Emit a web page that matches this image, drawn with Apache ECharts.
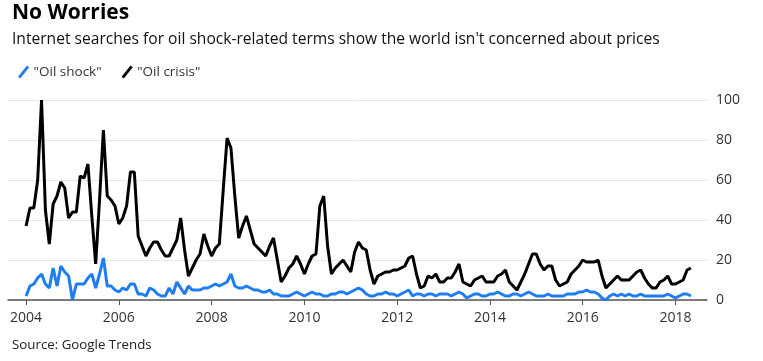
<!DOCTYPE html>
<html>
<head>
<meta charset="utf-8">
<script src="https://cdn.jsdelivr.net/npm/echarts@6/dist/echarts.min.js"></script>
<style>
html,body{margin:0;padding:0;background:#fff;}
#c{width:763px;height:361px;}
</style>
</head>
<body>
<div id="c"></div>
<script>
// Monthly Google Trends index, Jan 2004 .. May 2018
const startYear = 2004;
const oilCrisis = [
  37,46,46,60,100,45,28,48,52,59,56,41,
  44,44,62,61,68,42,18,50,85,52,50,47,
  38,41,47,64,64,32,27,22,26,29,29,25,
  22,22,26,30,41,25,12,16,20,23,33,27,
  22,26,28,55,81,76,52,31,37,42,35,28,
  26,24,22,27,31,20,9,12,16,18,22,18,
  13,18,22,23,47,52,27,13,16,18,20,17,
  14,24,29,26,25,15,8,12,13,14,14,15,
  15,16,17,21,22,13,6,7,12,11,13,9,
  9,11,11,14,18,9,8,7,10,11,12,9,
  9,9,12,13,15,9,7,5,9,13,18,23,
  23,18,15,17,17,10,7,8,9,13,15,17,
  20,19,19,19,20,12,6,8,10,12,10,10,
  10,12,14,15,11,8,6,6,9,10,12,8,
  8,9,10,15,16
];
const oilShock = [
  2,7,8,11,13,8,6,16,7,17,14,12,
  0,8,8,8,11,13,6,13,21,7,7,5,
  4,6,5,8,8,3,3,2,6,5,3,2,
  2,6,3,9,6,3,7,5,5,5,6,6,
  7,8,7,8,9,13,7,6,6,7,6,5,
  5,4,4,5,3,3,2,2,2,3,4,3,
  2,3,4,3,3,2,2,3,3,4,4,3,
  4,5,6,5,3,2,2,3,3,4,3,3,
  2,3,4,5,2,3,3,2,3,3,2,3,
  3,3,2,3,4,3,1,2,3,3,2,2,
  3,3,4,3,2,2,3,3,2,3,4,3,
  2,2,2,3,2,2,2,2,3,3,3,4,
  4,5,4,4,3,1,0,2,3,2,3,2,
  3,2,2,3,2,2,2,2,2,2,3,2,
  1,2,3,3,2
];
const yearTicks = [2004,2006,2008,2010,2012,2014,2016,2018];
const yTicks = [0,20,40,60,80,100];
const seriesNames = ['"Oil shock"','"Oil crisis"'];
const titleText = 'No Worries';
const subtitleText = "Internet searches for oil shock-related terms show the world isn't concerned about prices";
const sourceText = 'Source: Google Trends';

function toXY(arr){ return arr.map((v,i)=>[startYear + i/12, v]); }

const FONT = '"Open Sans", "Liberation Sans", sans-serif';
const chart = echarts.init(document.getElementById('c'), null, {renderer:'canvas'});
const slash = 'path://M0,10 L8,0 L10,1.6 L2,11.6 Z';
chart.setOption({
  animation:false,
  backgroundColor:'#fff',
  textStyle:{fontFamily:FONT},
  title:[
    {text:titleText, left:7, top:-2, textStyle:{fontSize:21, fontWeight:'bold', color:'#000', fontFamily:FONT}},
    {text:subtitleText, left:7, top:27, textStyle:{fontSize:15.6, fontWeight:'normal', color:'#111', fontFamily:FONT}},
    {text:sourceText, left:7, top:334, textStyle:{fontSize:13.3, fontWeight:'normal', color:'#222', fontFamily:FONT}}
  ],
  legend:{
    left:13, top:60, itemWidth:12, itemHeight:13, itemGap:20,
    textStyle:{fontSize:13.5, color:'#333', fontFamily:FONT, padding:[0,0,0,-1]},
    data:[{name:seriesNames[0], icon:slash},{name:seriesNames[1], icon:slash}]
  },
  grid:{left:8, right:56, top:100, bottom:61, containLabel:false},
  xAxis:{
    type:'value', min:2003.61, max:2018.68,
    axisLine:{show:true, lineStyle:{color:'#555', width:1.5}},
    axisTick:{show:true, length:5, lineStyle:{color:'#555'}, customValues:yearTicks},
    axisLabel:{color:'#333', fontSize:14, margin:11, customValues:yearTicks, formatter:v=>String(v), fontFamily:FONT},
    splitLine:{show:false}
  },
  yAxis:{
    type:'value', position:'right', min:0, max:100, interval:20,
    axisLine:{show:false}, axisTick:{show:false},
    axisLabel:{color:'#333', fontSize:14, margin:9, fontFamily:FONT},
    splitLine:{show:true, lineStyle:{color:'#e8e8e8', width:1}}
  },
  series:[
    {name:seriesNames[0], type:'line', data:toXY(oilShock), showSymbol:false, symbol:'none',
     lineStyle:{color:'#1f7cf2', width:3}, itemStyle:{color:'#1f7cf2'}, z:2},
    {name:seriesNames[1], type:'line', data:toXY(oilCrisis), showSymbol:false, symbol:'none',
     lineStyle:{color:'#000', width:3}, itemStyle:{color:'#000'}, z:3}
  ]
});
</script>
</body>
</html>
